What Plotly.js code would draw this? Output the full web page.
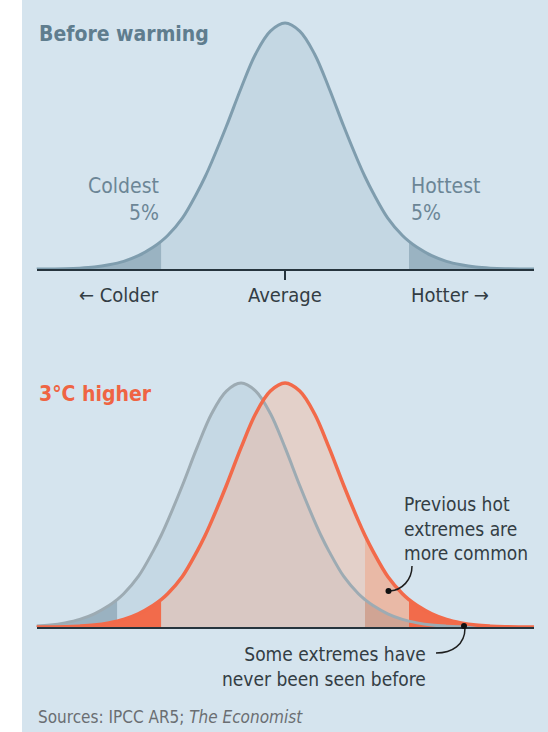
<!DOCTYPE html>
<html>
<head>
<meta charset="utf-8">
<script src="https://cdn.plot.ly/plotly-3.0.1.min.js"></script>
<style>
html,body{margin:0;padding:0;background:#fff;}
#chart{width:548px;height:732px;}
</style>
</head>
<body>
<div id="chart"></div>
<script>
// ---- data (temperature offsets from the mean, °C, and relative frequency) ----
const offsets = [-17,-16,-15,-14,-13,-12,-11,-10,-9,-8.45,-8,-7,-6,-5.45,-5,-4,-3,-2,-1,0,1,2,3,4,5,5.45,6,7,8,8.45,9,10,11,12,13,14,15,16,17];
const frequency = [0,0.0003,0.0012,0.0035,0.008,0.017,0.031,0.054,0.088,0.112,0.136,0.207,0.31,0.375,0.435,0.58,0.735,0.875,0.967,1,0.967,0.875,0.735,0.58,0.435,0.375,0.31,0.207,0.136,0.112,0.088,0.054,0.031,0.017,0.008,0.0035,0.0012,0.0003,0];
const tailCut = 8.45;        // offset marking the coldest / hottest 5%
const meanBefore = 0;        // average before warming
const meanAfter = 3;         // 3°C higher
const axisLabels = ['← Colder', 'Average', 'Hotter →'];

const F = "'DejaVu Sans Condensed','Liberation Sans Narrow','Roboto Condensed',Roboto,sans-serif";
const BG = '#d5e4ee';
const AXIS = '#26343d';

function series(mean, filt) {
  const x = [], y = [];
  offsets.forEach((o, i) => { if (filt(o)) { x.push(mean + o); y.push(frequency[i]); } });
  return {x, y};
}
function area(mean, filt, color, xa, ya) {
  const s = series(mean, filt);
  return {x: s.x, y: s.y, xaxis: xa, yaxis: ya, type: 'scatter', mode: 'lines',
    fill: 'tozeroy', fillcolor: color,
    line: {width: 0, shape: 'spline', color: 'rgba(0,0,0,0)'},
    hoverinfo: 'skip', showlegend: false};
}
function curve(mean, color, width, xa, ya) {
  const s = series(mean, () => true);
  return {x: s.x, y: s.y, xaxis: xa, yaxis: ya, type: 'scatter', mode: 'lines',
    line: {color: color, width: width, shape: 'spline'}, hoverinfo: 'skip', showlegend: false};
}
const all = () => true;
const cold = o => o <= -tailCut;
const hot = o => o >= tailCut;

const traces = [
  // top panel
  area(meanBefore, all, '#c4d7e3', 'x', 'y'),
  area(meanBefore, cold, '#9ab3c2', 'x', 'y'),
  area(meanBefore, hot, '#9ab3c2', 'x', 'y'),
  curve(meanBefore, '#7f9dae', 3, 'x', 'y'),
  // bottom panel
  area(meanBefore, all, '#c5d8e4', 'x2', 'y2'),
  area(meanBefore, cold, '#9ab2c1', 'x2', 'y2'),
  area(meanBefore, hot, '#9ab2c1', 'x2', 'y2'),
  area(meanAfter, all, 'rgba(248,178,146,0.4)', 'x2', 'y2'),
  area(meanAfter, o => (meanAfter + o) >= meanBefore + tailCut && o <= tailCut, 'rgba(247,138,94,0.32)', 'x2', 'y2'),
  area(meanAfter, cold, '#f26b4b', 'x2', 'y2'),
  area(meanAfter, hot, '#f26b4b', 'x2', 'y2'),
  curve(meanBefore, '#9dabb3', 3, 'x2', 'y2'),
  curve(meanAfter, '#f26a4a', 3.5, 'x2', 'y2')
];

const W = 548, H = 732;
const px = v => v / W, py = v => 1 - v / H;
const xDom = [px(36.7), px(534)];

const layout = {
  width: W, height: H,
  margin: {l: 0, r: 0, t: 0, b: 0},
  paper_bgcolor: '#ffffff', plot_bgcolor: 'rgba(0,0,0,0)',
  font: {family: F, color: '#333d44'},
  xaxis: {domain: xDom, range: [-16.93, 16.97], showgrid: false, zeroline: false,
    showline: true, linecolor: AXIS, linewidth: 2, tickvals: [meanBefore], ticks: 'outside',
    ticklen: 9, tickwidth: 1.5, tickcolor: AXIS, showticklabels: false, fixedrange: true},
  yaxis: {domain: [py(269), 1], range: [0, 269 / 246], visible: false, fixedrange: true},
  xaxis2: {domain: xDom, range: [-16.93 + meanAfter, 16.97 + meanAfter], anchor: 'y2', showgrid: false, zeroline: false,
    showline: true, linecolor: AXIS, linewidth: 2, ticks: '', showticklabels: false, fixedrange: true},
  yaxis2: {domain: [py(627), py(360)], range: [0, 267 / 244], anchor: 'x2', visible: false, fixedrange: true},
  shapes: [
    {type: 'rect', xref: 'paper', yref: 'paper', x0: px(22), x1: 1, y0: 0, y1: 1,
      fillcolor: BG, line: {width: 0}, layer: 'below'},
    {type: 'path', xref: 'paper', yref: 'paper', layer: 'above',
      path: `M ${px(412)},${py(566)} C ${px(412)},${py(580)} ${px(402)},${py(590)} ${px(390)},${py(591)}`,
      line: {color: '#1e1e1e', width: 1.5}},
    {type: 'circle', xref: 'paper', yref: 'paper', layer: 'above',
      x0: px(385.5), x1: px(391.5), y0: py(594), y1: py(588), fillcolor: '#111', line: {width: 0}},
    {type: 'path', xref: 'paper', yref: 'paper', layer: 'above',
      path: `M ${px(436)},${py(653)} C ${px(452)},${py(653)} ${px(465)},${py(645)} ${px(465)},${py(628)}`,
      line: {color: '#1e1e1e', width: 1.5}},
    {type: 'circle', xref: 'paper', yref: 'paper', layer: 'above',
      x0: px(461), x1: px(467), y0: py(629), y1: py(623), fillcolor: '#111', line: {width: 0}}
  ],
  annotations: [
    {xref: 'paper', yref: 'paper', x: px(37), y: py(34), xanchor: 'left', yanchor: 'middle', showarrow: false,
      text: 'Before warming', font: {size: 21, weight: 700, color: '#5f7d8e', family: F}},
    {xref: 'x', yref: 'paper', x: -tailCut, y: py(186), xanchor: 'right', yanchor: 'middle', showarrow: false,
      text: 'Coldest', font: {size: 21, color: '#6c8696', family: F}},
    {xref: 'x', yref: 'paper', x: -tailCut, y: py(213), xanchor: 'right', yanchor: 'middle', showarrow: false,
      text: '5%', font: {size: 21, color: '#6c8696', family: F}},
    {xref: 'x', yref: 'paper', x: tailCut, y: py(186), xanchor: 'left', yanchor: 'middle', showarrow: false,
      text: 'Hottest', font: {size: 21, color: '#6c8696', family: F}},
    {xref: 'x', yref: 'paper', x: tailCut, y: py(213), xanchor: 'left', yanchor: 'middle', showarrow: false,
      text: '5%', font: {size: 21, color: '#6c8696', family: F}},
    {xref: 'x', yref: 'paper', x: -tailCut, y: py(295), xanchor: 'right', yanchor: 'middle', showarrow: false,
      text: axisLabels[0], font: {size: 20, color: '#333d44', family: F}},
    {xref: 'x', yref: 'paper', x: meanBefore, y: py(295), xanchor: 'center', yanchor: 'middle', showarrow: false,
      text: axisLabels[1], font: {size: 20, color: '#333d44', family: F}},
    {xref: 'x', yref: 'paper', x: tailCut, y: py(295), xanchor: 'left', yanchor: 'middle', showarrow: false,
      text: axisLabels[2], font: {size: 20, color: '#333d44', family: F}},
    {xref: 'paper', yref: 'paper', x: px(37), y: py(394), xanchor: 'left', yanchor: 'middle', showarrow: false,
      text: '3°C higher', font: {size: 21, weight: 700, color: '#ef6443', family: F}},
    {xref: 'paper', yref: 'paper', x: px(402), y: py(528), xanchor: 'left', yanchor: 'middle', align: 'left', showarrow: false,
      text: 'Previous hot<br>extremes are<br>more common', font: {size: 19, color: '#333d44', family: F}},
    {xref: 'paper', yref: 'paper', x: px(428), y: py(666), xanchor: 'right', yanchor: 'middle', align: 'right', showarrow: false,
      text: 'Some extremes have<br>never been seen before', font: {size: 19, color: '#333d44', family: F}},
    {xref: 'paper', yref: 'paper', x: px(36), y: py(717), xanchor: 'left', yanchor: 'middle', showarrow: false,
      text: 'Sources: IPCC AR5; <i>The Economist</i>', font: {size: 17, color: '#6a6e72', family: F}}
  ]
};

Plotly.newPlot('chart', traces, layout, {displayModeBar: false, staticPlot: true});
</script>
</body>
</html>
